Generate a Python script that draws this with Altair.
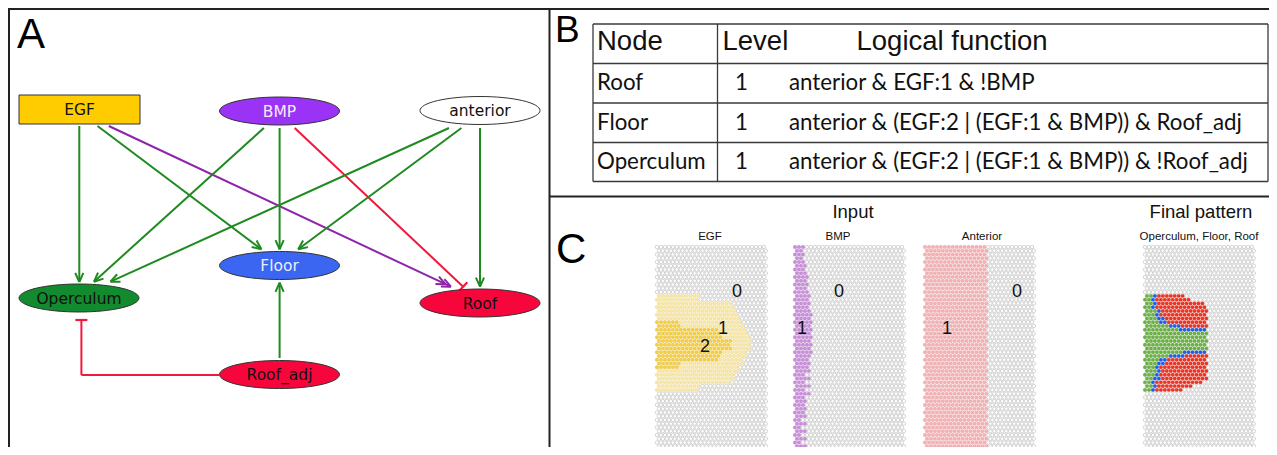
import math
import altair as alt
import pandas as pd

# ======================= DATA =======================
# Panel A - regulatory network
node_names = ["EGF", "BMP", "anterior", "Floor", "Operculum", "Roof", "Roof_adj"]
edge_sources = ["EGF", "EGF", "EGF", "BMP", "BMP", "BMP",
                "anterior", "anterior", "anterior", "Roof_adj", "Roof_adj"]
edge_targets = ["Operculum", "Floor", "Roof", "Operculum", "Floor", "Roof",
                "Operculum", "Floor", "Roof", "Floor", "Operculum"]
edge_kinds = ["activation", "activation", "level", "activation", "activation", "inhibition",
              "activation", "activation", "activation", "activation", "inhibition"]

# Panel B - logical rules table
table_header = ["Node", "Level", "Logical function"]
table_nodes = ["Roof", "Floor", "Operculum"]
table_levels = ["1", "1", "1"]
table_functions = ["anterior & EGF:1 & !BMP",
                   "anterior & (EGF:2 | (EGF:1 & BMP)) & Roof_adj",
                   "anterior & (EGF:2 | (EGF:1 & BMP)) & !Roof_adj"]

# Panel C - hexagonal tissue grids
section_titles = ["Input", "Final pattern"]
grid_titles = ["EGF", "BMP", "Anterior", "Operculum, Floor, Roof"]
N_ROWS, N_COLS = 55, 28
# EGF level 1 region: last column (exclusive) per row, starting at row 13
egf1_first_row = 13
egf1_end = [11, 11, 19, 20, 20, 21, 21, 22, 22, 23, 23, 24, 24,
            24, 24, 23, 23, 22, 22, 21, 21, 20, 20, 19, 11, 11]
# EGF level 2 region, starting at row 20
egf2_first_row = 20
egf2_end = [6, 6, 16, 16, 17, 19, 19, 19, 17, 16, 16, 6, 6]
# BMP stripe width (cells) per row
bmp_width = [3, 2, 3, 2, 3,
             3, 3, 3, 4, 3, 4, 3, 4,
             4, 4, 4, 4, 4, 5, 4, 5, 4, 5, 4, 5, 4, 5, 4, 5, 4, 4, 4, 4,
             4, 3, 4, 3, 4, 3, 4, 3, 3, 3, 3, 3,
             3, 2, 3, 2, 3, 2, 3, 2, 3, 2]
# Anterior: number of columns that are on
anterior_cols = 16
# Final pattern, starting at row 13: Operculum | Floor | Roof column ends per row
final_first_row = 13
oper_end = [2, 2, 2, 2, 3, 3, 3, 4, 6, 9, 16, 16, 16, 16, 16, 10, 6, 4, 3, 3, 3, 3, 2, 2, 2, 2]
floor_end = [3, 3, 3, 3, 4, 4, 5, 6, 9, 16, 16, 16, 16, 16, 16, 16, 10, 6, 5, 4, 4, 4, 4, 3, 3, 3]
roof_end = [10, 12, 15, 16, 16, 16, 16, 16, 16, 16, 16, 16, 16, 16, 16, 16, 16, 16, 16, 16, 16, 16, 16, 15, 12, 10]
# value labels drawn on the input grids
grid_label_grid = ["EGF", "EGF", "EGF", "BMP", "BMP", "Anterior", "Anterior"]
grid_label_text = ["0", "1", "2", "0", "1", "0", "1"]

# ======================= LAYOUT / STYLE =======================
X0, Y0, W, H = 8, 8, 1261, 439
xs = alt.Scale(domain=[X0, X0 + W])
ys = alt.Scale(domain=[Y0, Y0 + H], reverse=True)


def xe(f="x"):
    return alt.X(f"{f}:Q", scale=xs, axis=None)


def ye(f="y"):
    return alt.Y(f"{f}:Q", scale=ys, axis=None)


node_center = {"EGF": (79.5, 109.5), "BMP": (279.5, 111), "anterior": (480, 110.5),
               "Floor": (279.5, 265.5), "Operculum": (79, 298), "Roof": (480, 303),
               "Roof_adj": (279.5, 374.5)}
node_fill = {"EGF": "#ffcc00", "BMP": "#9a33f6", "anterior": "#ffffff", "Floor": "#3a66f2",
             "Operculum": "#128a2e", "Roof": "#f7063c", "Roof_adj": "#f7063c"}
node_text_col = {"BMP": "#f3ecff", "Floor": "#e8efff"}
NODE_W, NODE_H = 120, 28

edge_path = {
    ("EGF", "Operculum"): [(79.3, 126), (79.3, 282)],
    ("EGF", "Floor"): [(97.5, 126), (261.4, 249.3)],
    ("EGF", "Roof"): [(108.8, 126), (450.9, 286.7)],
    ("BMP", "Operculum"): [(263.9, 128), (94, 281.7)],
    ("BMP", "Floor"): [(279.6, 128), (279.6, 249.3)],
    ("BMP", "Roof"): [(294.7, 128), (463.2, 286.7)],
    ("anterior", "Operculum"): [(449, 128), (110.5, 281.7)],
    ("anterior", "Floor"): [(461.4, 128), (298.2, 249.3)],
    ("anterior", "Roof"): [(480, 128), (480, 286.7)],
    ("Roof_adj", "Floor"): [(279.6, 358), (279.6, 282.7)],
    ("Roof_adj", "Operculum"): [(219, 375), (81.4, 375), (81.4, 320)],
}
kind_color = {"activation": "#1f8a1f", "inhibition": "#f0183c", "level": "#8e24aa"}

grid_x0 = {"EGF": 657, "BMP": 795, "Anterior": 925, "Operculum, Floor, Roof": 1145}
GY0, DX, DY = 247, 3.96, 3.76
state_fill = {"off": "#ffffff", "egf1": "#f9e8a4", "egf2": "#f5cf44", "bmp": "#cb8edb",
              "ant": "#f4b2b4", "oper": "#6db245", "floor": "#2160ea", "roof": "#ef3424"}
state_stroke = {"off": "#a3a3a3", "egf1": "#e9d58e", "egf2": "#e2bb35", "bmp": "#b27ac4",
                "ant": "#e6a2a5", "oper": "#5c9d3a", "floor": "#1c50c6", "roof": "#cf2c1e"}
grid_label_pos = [(737, 292), (723, 329), (705, 347), (839, 292), (802, 329), (1017, 292), (947, 329)]

# ======================= BUILD FRAMES =======================
segs = []


def seg(x, y, x2, y2, color, w):
    segs.append(dict(x=x, y=y, x2=x2, y2=y2, color=color, w=w))


# panel borders
seg(8, 9, 1269, 9, "#222222", 2)
seg(9, 8, 9, 447, "#222222", 2)
seg(549.5, 8, 549.5, 447, "#222222", 2)
seg(549.5, 196.5, 1269, 196.5, "#222222", 2)

# table lines
row_lines = [24, 63.5, 103, 142.5, 181.5]
col_lines = [593, 717.5, 1268]
for yy in row_lines:
    seg(col_lines[0], yy, col_lines[-1], yy, "#3a3a3a", 1.3)
for xx in col_lines:
    seg(xx, row_lines[0], xx, row_lines[-1], "#3a3a3a", 1.3)

# network edges
for s, t, k in zip(edge_sources, edge_targets, edge_kinds):
    pts = edge_path[(s, t)]
    col = kind_color[k]
    for (ax, ay), (bx, by) in zip(pts[:-1], pts[1:]):
        seg(ax, ay, bx, by, col, 2)
    (ax, ay), (bx, by) = pts[-2], pts[-1]
    L = math.hypot(bx - ax, by - ay)
    ux, uy = (bx - ax) / L, (by - ay) / L
    if k == "inhibition":
        px, py = -uy, ux
        seg(bx - 6 * px, by - 6 * py, bx + 6 * px, by + 6 * py, col, 2.2)
    else:
        tips = [(bx, by)] if k == "activation" else [(bx, by), (bx - 6 * ux, by - 6 * uy)]
        for tx, ty in tips:
            for sgn in (1, -1):
                th = math.radians(24) * sgn
                rx = ux * math.cos(th) - uy * math.sin(th)
                ry = ux * math.sin(th) + uy * math.cos(th)
                seg(tx, ty, tx - 10 * rx, ty - 10 * ry, col, 2)

seg_df = pd.DataFrame(segs)

rules = alt.Chart(seg_df).mark_rule().encode(
    x=xe(), y=ye(), x2="x2:Q", y2="y2:Q",
    color=alt.Color("color:N", scale=None),
    strokeWidth=alt.StrokeWidth("w:Q", scale=None))

# nodes
ell_df = pd.DataFrame([dict(x=node_center[n][0], y=node_center[n][1], fill=node_fill[n])
                       for n in node_names if n != "EGF"])
ratio = NODE_H / NODE_W
ell_path = "M" + " L".join(f"{math.cos(2 * math.pi * i / 64):.4f},{ratio * math.sin(2 * math.pi * i / 64):.4f}"
                           for i in range(64)) + " Z"
ellipses = alt.Chart(ell_df).mark_point(shape=ell_path, size=NODE_W ** 2, filled=True, opacity=1,
                                        stroke="#333333", strokeWidth=1).encode(
    x=xe(), y=ye(), fill=alt.Fill("fill:N", scale=None))

ex, ey = node_center["EGF"]
rect_df = pd.DataFrame([dict(x=ex - 60.5, x2=ex + 60.5, y=ey - 14.5, y2=ey + 14.5, fill=node_fill["EGF"])])
rect = alt.Chart(rect_df).mark_rect(stroke="#333333", strokeWidth=1).encode(
    x=xe(), x2="x2:Q", y=ye(), y2="y2:Q", fill=alt.Fill("fill:N", scale=None))

nt_df = pd.DataFrame([dict(x=node_center[n][0], y=node_center[n][1] + 0.5, t=n,
                           c=node_text_col.get(n, "#111111")) for n in node_names])
node_text = alt.Chart(nt_df).mark_text(font="DejaVu Sans", fontSize=15.5, align="center",
                                       baseline="middle").encode(
    x=xe(), y=ye(), text="t:N", color=alt.Color("c:N", scale=None))

# panel letters
let_df = pd.DataFrame(dict(x=[17, 555, 556], y=[48, 42, 263], t=["A", "B", "C"], s=[42, 37, 42]))
letters = alt.Chart(let_df).mark_text(font="Liberation Sans", align="left",
                                      baseline="alphabetic", color="#000000").encode(
    x=xe(), y=ye(), text="t:N", size=alt.Size("s:Q", scale=None))

# table text
hdr_df = pd.DataFrame(dict(x=[597, 722.5, 856.5], y=[49.5] * 3, t=table_header))
header = alt.Chart(hdr_df).mark_text(font="Liberation Sans", fontSize=27.5, align="left",
                                     baseline="alphabetic", color="#111111").encode(
    x=xe(), y=ye(), text="t:N")
rows = []
for i, (nd, lv, fn) in enumerate(zip(table_nodes, table_levels, table_functions)):
    by = 90 + 39.5 * i
    rows += [dict(x=597, y=by, t=nd), dict(x=735, y=by, t=lv), dict(x=789, y=by, t=fn)]
body = alt.Chart(pd.DataFrame(rows)).mark_text(font="Lato", fontSize=22.3, align="left",
                                               baseline="alphabetic", color="#111111").encode(
    x=xe(), y=ye(), text="t:N")

# panel C titles
sec_df = pd.DataFrame(dict(x=[853, 1201], y=[218, 218], t=section_titles))
sections = alt.Chart(sec_df).mark_text(font="Liberation Sans", fontSize=18.5, align="center",
                                       baseline="alphabetic", color="#111111").encode(
    x=xe(), y=ye(), text="t:N")
sub_df = pd.DataFrame(dict(x=[710, 838, 982, 1199], y=[240] * 4, t=grid_titles))
subs = alt.Chart(sub_df).mark_text(font="Liberation Sans", fontSize=11.5, align="center",
                                   baseline="alphabetic", color="#111111").encode(
    x=xe(), y=ye(), text="t:N")

# hex cells
cells = []
for g in grid_titles:
    for r in range(N_ROWS):
        for c in range(N_COLS):
            st = "off"
            if g == "EGF":
                i = r - egf1_first_row
                if 0 <= i < len(egf1_end) and c < egf1_end[i]:
                    st = "egf1"
                j = r - egf2_first_row
                if 0 <= j < len(egf2_end) and c < egf2_end[j]:
                    st = "egf2"
            elif g == "BMP":
                if c < bmp_width[r]:
                    st = "bmp"
            elif g == "Anterior":
                if c < anterior_cols:
                    st = "ant"
            else:
                k = r - final_first_row
                if 0 <= k < len(oper_end):
                    if c < oper_end[k]:
                        st = "oper"
                    elif c < floor_end[k]:
                        st = "floor"
                    elif c < roof_end[k]:
                        st = "roof"
            cells.append(dict(x=round(grid_x0[g] + DX * c + (DX / 2 if r % 2 else 0), 2),
                              y=round(GY0 + DY * r, 2), f=state_fill[st], s=state_stroke[st]))
cell_df = pd.DataFrame(cells)
hexes = alt.Chart(cell_df).mark_point(shape="circle", size=12, filled=True, opacity=1,
                                      strokeWidth=0.45).encode(
    x=xe(), y=ye(), fill=alt.Fill("f:N", scale=None), stroke=alt.Stroke("s:N", scale=None))

gl_df = pd.DataFrame(dict(x=[p[0] for p in grid_label_pos], y=[p[1] for p in grid_label_pos],
                          t=grid_label_text))
glabels = alt.Chart(gl_df).mark_text(font="Liberation Sans", fontSize=18, align="center",
                                     baseline="middle", color="#111111").encode(
    x=xe(), y=ye(), text="t:N")

chart = alt.layer(rules, rect, ellipses, node_text, letters, header, body, sections, subs,
                  hexes, glabels).properties(
    width=W, height=H, padding=0, autosize=alt.AutoSizeParams(type="none"),
    background="#ffffff").configure_view(stroke=None)

chart.save("out.html", embed_options={"renderer": "svg", "actions": False})
